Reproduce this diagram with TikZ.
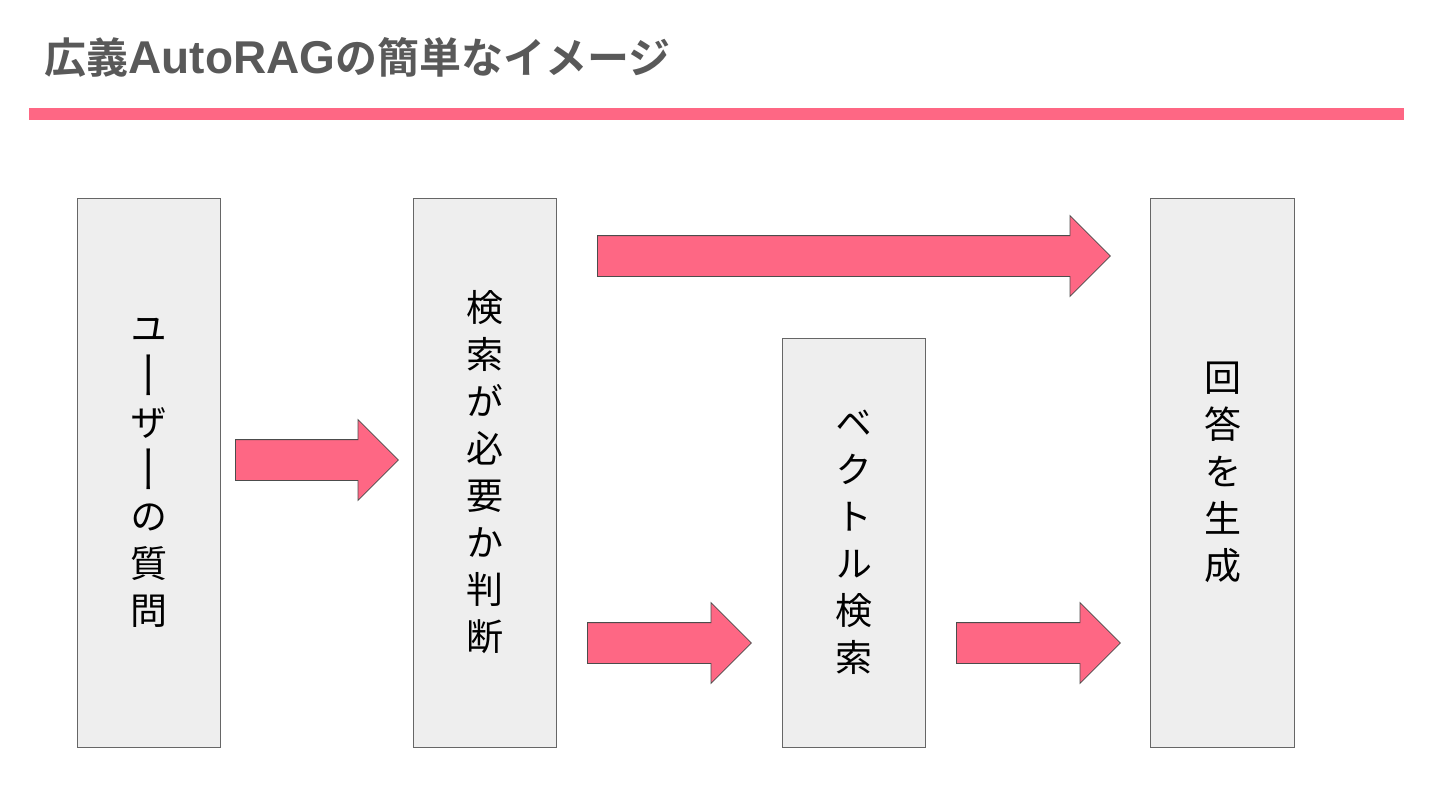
\documentclass[tikz,border=0pt]{standalone}
\usepackage{fontspec}
\usepackage{graphicx}
\usetikzlibrary{shapes}
\newfontfamily\cjk[RawFeature=+vert]{Noto Sans CJK JP}
\newfontfamily\cjkbold{Noto Sans CJK JP Bold}
\newfontfamily\latinbold{Liberation Sans Bold}
\definecolor{rosa}{HTML}{FE6784}
\definecolor{boxgray}{HTML}{EEEEEE}
\definecolor{titlegray}{HTML}{595959}
\newcommand{\chouon}{\smash{\raisebox{-0.17em}{\scalebox{1}[1.4]{ー}}}}

\begin{document}
\begin{tikzpicture}[x=0.5pt,y=-0.5pt]
\tikzset{stage/.style = {shape=rectangle,draw=black!60,fill=boxgray,minimum width=71.5pt,align=center,inner sep=0pt,
  font=\cjk\fontsize{18.5}{23.5}\selectfont}}
\tikzset{flow/.style = {shape=single arrow,anchor=tail,draw=black!70,fill=rosa,inner sep=0pt,text height=20pt,text depth=0pt,
  single arrow head extend=10pt,single arrow tip angle=90,minimum height=81.5pt}}
\useasboundingbox (0,0) rectangle (1440,810);
\node[anchor=base west,text=titlegray,inner sep=0pt] (title) at (44,73)
  {{\cjkbold\fontsize{21}{25}\selectfont 広義}{\latinbold\fontsize{23}{27}\selectfont AutoRAG}{\cjkbold\fontsize{21}{25}\selectfont の簡単なイメージ}};
\fill[rosa] (29,108) rectangle (1404,120);

\node[stage,minimum height=274.5pt] (user) at (148.5,472.5) {ユ\\\chouon\\ザ\\\chouon\\の\\質\\問};
\node[stage,minimum height=274.5pt] (judge) at (485,472.5) {検\\索\\が\\必\\要\\か\\判\\断};
\node[stage,minimum height=204.5pt] (vector) at (854,542.5) {ベ\\ク\\ト\\ル\\検\\索};
\node[stage,minimum height=274.5pt,minimum width=72pt] (answer) at (1222.5,472.5) {回\\答\\を\\生\\成};

\node[flow] (a) at (235,460) {};
\node[flow,minimum height=256.5pt] (b) at (597,256) {};
\node[flow,minimum height=82pt] (c) at (587,643) {};
\node[flow,minimum height=82pt] (d) at (956,643) {};
\end{tikzpicture}
\end{document}
